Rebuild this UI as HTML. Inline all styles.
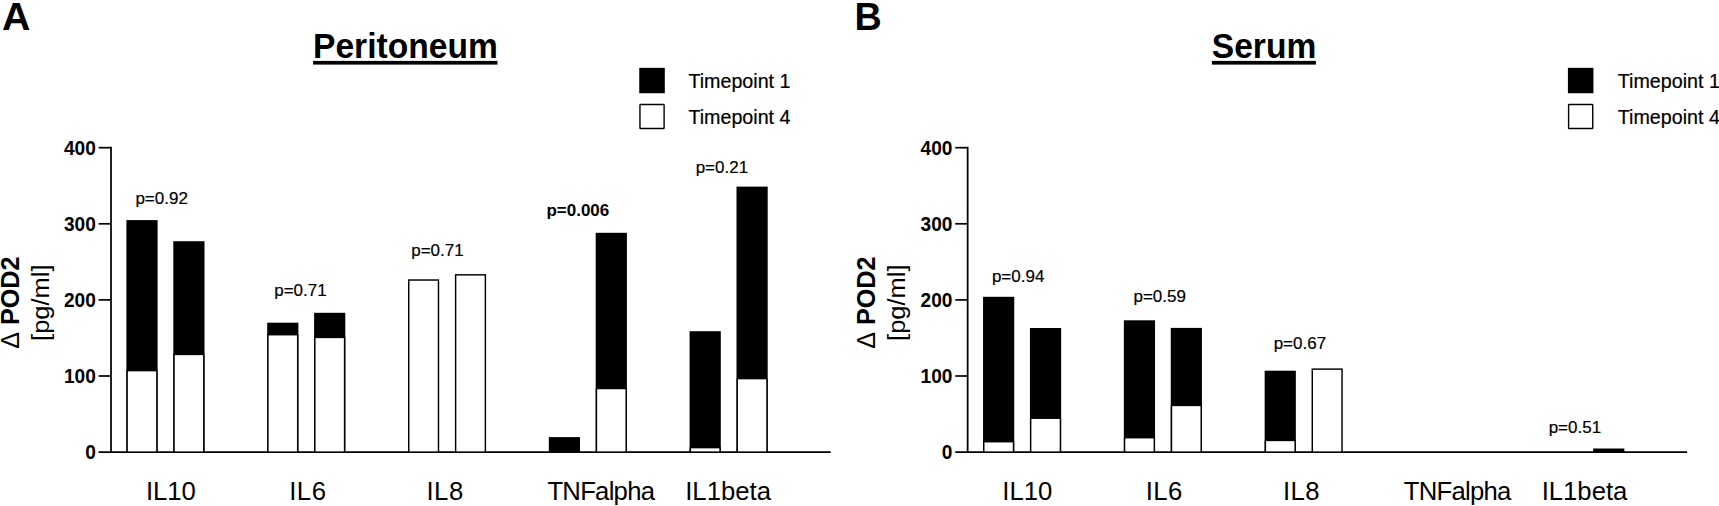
<!DOCTYPE html>
<html lang="en"><head><meta charset="utf-8"><title>Peritoneum / Serum</title>
<style>
html,body{margin:0;padding:0;background:#fff;}
body{width:1719px;height:506px;overflow:hidden;}
svg{display:block;}
text{font-family:"Liberation Sans",Arial,sans-serif;fill:#000;}
.pl{font-weight:bold;}
.tt{font-size:33.6px;font-weight:bold;}
.lg{font-size:19.7px;stroke:#000;stroke-width:0.2px;}
.tk{font-size:19.1px;font-weight:bold;}
.pv{font-size:17px;stroke:#000;stroke-width:0.2px;}
.pb{font-weight:bold;stroke:none;}
.xl{font-size:25.7px;}
.yl1{font-size:25.2px;font-weight:bold;}
.yl1 .dl{font-weight:normal;}
.yl2{font-size:25.5px;}
</style></head><body>
<svg width="1719" height="506" viewBox="0 0 1719 506">
<rect width="1719" height="506" fill="#fff"/>
<!-- Panel A -->
<text class="pl" transform="translate(2.00,30.00)" style="font-size:39.3px">A</text>
<text class="tt" transform="translate(405.40,57.50) scale(1,1.025)" text-anchor="middle">Peritoneum</text>
<rect x="313.1" y="60.9" width="184.4" height="3.7" fill="#000"/>
<rect x="639.26" y="67.84" width="25.55" height="25.4" fill="#000"/>
<rect x="639.96" y="104.55" width="24.15" height="24.0" rx="0.6" fill="#fff" stroke="#000" stroke-width="1.4"/>
<text class="lg" transform="translate(688.40,87.80) scale(1,1.035)">Timepoint 1</text>
<text class="lg" transform="translate(688.40,123.50) scale(1,1.035)">Timepoint 4</text>
<line x1="111.00" y1="146.85" x2="111.00" y2="452.98" stroke="#000" stroke-width="1.75"/>
<line x1="98.60" y1="452.1" x2="830.70" y2="452.1" stroke="#000" stroke-width="1.75"/>
<line x1="98.60" y1="147.70" x2="111.00" y2="147.70" stroke="#000" stroke-width="1.7"/>
<text class="tk" transform="translate(95.80,155.00) scale(1,1.03)" text-anchor="end">400</text>
<line x1="98.60" y1="223.80" x2="111.00" y2="223.80" stroke="#000" stroke-width="1.7"/>
<text class="tk" transform="translate(95.80,231.10) scale(1,1.03)" text-anchor="end">300</text>
<line x1="98.60" y1="299.90" x2="111.00" y2="299.90" stroke="#000" stroke-width="1.7"/>
<text class="tk" transform="translate(95.80,307.20) scale(1,1.03)" text-anchor="end">200</text>
<line x1="98.60" y1="376.00" x2="111.00" y2="376.00" stroke="#000" stroke-width="1.7"/>
<text class="tk" transform="translate(95.80,383.30) scale(1,1.03)" text-anchor="end">100</text>
<text class="tk" transform="translate(95.80,459.40) scale(1,1.03)" text-anchor="end">0</text>
<text class="yl1" transform="translate(18.80,302.65) rotate(-90) scale(1,1.02)" text-anchor="middle"><tspan class="dl">Δ</tspan> POD2</text>
<text class="yl2" transform="translate(48.70,302.65) rotate(-90) scale(1,0.955)" text-anchor="middle">[pg/ml]</text>
<rect x="126.40" y="220.10" width="31.2" height="232.00" fill="#000"/>
<rect x="127.12" y="370.62" width="29.75" height="81.48" fill="#fff" stroke="#000" stroke-width="1.45"/>
<rect x="173.30" y="241.20" width="31.2" height="210.90" fill="#000"/>
<rect x="174.03" y="354.42" width="29.75" height="97.68" fill="#fff" stroke="#000" stroke-width="1.45"/>
<rect x="267.20" y="322.70" width="31.2" height="129.40" fill="#000"/>
<rect x="267.93" y="334.72" width="29.75" height="117.38" fill="#fff" stroke="#000" stroke-width="1.45"/>
<rect x="314.10" y="312.80" width="31.2" height="139.30" fill="#000"/>
<rect x="314.83" y="337.42" width="29.75" height="114.68" fill="#fff" stroke="#000" stroke-width="1.45"/>
<rect x="408.73" y="280.03" width="29.75" height="172.07" fill="#fff" stroke="#000" stroke-width="1.45"/>
<rect x="455.62" y="274.83" width="29.75" height="177.27" fill="#fff" stroke="#000" stroke-width="1.45"/>
<rect x="548.80" y="437.10" width="31.2" height="15.00" fill="#000"/>
<rect x="595.70" y="232.80" width="31.2" height="219.30" fill="#000"/>
<rect x="596.43" y="388.52" width="29.75" height="63.58" fill="#fff" stroke="#000" stroke-width="1.45"/>
<rect x="689.60" y="331.20" width="31.2" height="120.90" fill="#000"/>
<rect x="690.33" y="447.62" width="29.75" height="4.48" fill="#fff" stroke="#000" stroke-width="1.45"/>
<rect x="736.50" y="186.60" width="31.2" height="265.50" fill="#000"/>
<rect x="737.23" y="378.62" width="29.75" height="73.48" fill="#fff" stroke="#000" stroke-width="1.45"/>
<text class="pv" transform="translate(135.40,203.70) scale(1,1.01)">p=0.92</text>
<text class="pv" transform="translate(274.20,295.50) scale(1,1.01)">p=0.71</text>
<text class="pv" transform="translate(411.20,255.75) scale(1,1.01)">p=0.71</text>
<text class="pv pb" transform="translate(546.40,215.90) scale(1,1.01)">p=0.006</text>
<text class="pv" transform="translate(695.65,172.60) scale(1,1.01)">p=0.21</text>
<text class="xl" transform="translate(145.90,499.80) scale(1,1.025)">IL10</text>
<text class="xl" transform="translate(289.20,499.80) scale(1,1.025)" style="letter-spacing:0.5px">IL6</text>
<text class="xl" transform="translate(426.45,499.80) scale(1,1.025)" style="letter-spacing:0.5px">IL8</text>
<text class="xl" transform="translate(547.40,499.80) scale(1,1.025)" style="letter-spacing:-0.75px">TNFalpha</text>
<text class="xl" transform="translate(685.20,499.80) scale(1,1.025)">IL1beta</text>
<!-- Panel B -->
<text class="pl" transform="translate(854.50,30.00) scale(1,1.045)" style="font-size:37.7px">B</text>
<text class="tt" transform="translate(1264.00,57.50) scale(1,1.025)" text-anchor="middle">Serum</text>
<rect x="1211.9" y="60.9" width="104" height="3.7" fill="#000"/>
<rect x="1567.90" y="67.84" width="25.55" height="25.4" fill="#000"/>
<rect x="1568.60" y="104.55" width="24.15" height="24.0" rx="0.6" fill="#fff" stroke="#000" stroke-width="1.4"/>
<text class="lg" transform="translate(1617.80,87.80) scale(1,1.035)">Timepoint 1</text>
<text class="lg" transform="translate(1617.80,123.50) scale(1,1.035)">Timepoint 4</text>
<line x1="967.65" y1="146.85" x2="967.65" y2="452.98" stroke="#000" stroke-width="1.75"/>
<line x1="955.25" y1="452.1" x2="1687.15" y2="452.1" stroke="#000" stroke-width="1.75"/>
<line x1="955.25" y1="147.70" x2="967.65" y2="147.70" stroke="#000" stroke-width="1.7"/>
<text class="tk" transform="translate(952.45,155.00) scale(1,1.03)" text-anchor="end">400</text>
<line x1="955.25" y1="223.80" x2="967.65" y2="223.80" stroke="#000" stroke-width="1.7"/>
<text class="tk" transform="translate(952.45,231.10) scale(1,1.03)" text-anchor="end">300</text>
<line x1="955.25" y1="299.90" x2="967.65" y2="299.90" stroke="#000" stroke-width="1.7"/>
<text class="tk" transform="translate(952.45,307.20) scale(1,1.03)" text-anchor="end">200</text>
<line x1="955.25" y1="376.00" x2="967.65" y2="376.00" stroke="#000" stroke-width="1.7"/>
<text class="tk" transform="translate(952.45,383.30) scale(1,1.03)" text-anchor="end">100</text>
<text class="tk" transform="translate(952.45,459.40) scale(1,1.03)" text-anchor="end">0</text>
<text class="yl1" transform="translate(875.30,302.65) rotate(-90) scale(1,1.02)" text-anchor="middle"><tspan class="dl">Δ</tspan> POD2</text>
<text class="yl2" transform="translate(905.20,302.65) rotate(-90) scale(1,0.955)" text-anchor="middle">[pg/ml]</text>
<rect x="983.05" y="296.80" width="31.2" height="155.30" fill="#000"/>
<rect x="983.77" y="441.72" width="29.75" height="10.38" fill="#fff" stroke="#000" stroke-width="1.45"/>
<rect x="1029.95" y="328.00" width="31.2" height="124.10" fill="#000"/>
<rect x="1030.67" y="418.22" width="29.75" height="33.88" fill="#fff" stroke="#000" stroke-width="1.45"/>
<rect x="1123.85" y="320.30" width="31.2" height="131.80" fill="#000"/>
<rect x="1124.57" y="437.72" width="29.75" height="14.38" fill="#fff" stroke="#000" stroke-width="1.45"/>
<rect x="1170.75" y="327.90" width="31.2" height="124.20" fill="#000"/>
<rect x="1171.47" y="405.42" width="29.75" height="46.68" fill="#fff" stroke="#000" stroke-width="1.45"/>
<rect x="1264.65" y="370.70" width="31.2" height="81.40" fill="#000"/>
<rect x="1265.38" y="440.42" width="29.75" height="11.68" fill="#fff" stroke="#000" stroke-width="1.45"/>
<rect x="1312.28" y="369.12" width="29.75" height="82.98" fill="#fff" stroke="#000" stroke-width="1.45"/>
<rect x="1593.15" y="448.50" width="31.2" height="3.60" fill="#000"/>
<text class="pv" transform="translate(991.90,281.70) scale(1,1.01)">p=0.94</text>
<text class="pv" transform="translate(1133.50,301.70) scale(1,1.01)">p=0.59</text>
<text class="pv" transform="translate(1273.65,349.10) scale(1,1.01)">p=0.67</text>
<text class="pv" transform="translate(1548.65,432.60) scale(1,1.01)">p=0.51</text>
<text class="xl" transform="translate(1002.35,499.80) scale(1,1.025)">IL10</text>
<text class="xl" transform="translate(1145.65,499.80) scale(1,1.025)" style="letter-spacing:0.5px">IL6</text>
<text class="xl" transform="translate(1282.90,499.80) scale(1,1.025)" style="letter-spacing:0.5px">IL8</text>
<text class="xl" transform="translate(1403.85,499.80) scale(1,1.025)" style="letter-spacing:-0.75px">TNFalpha</text>
<text class="xl" transform="translate(1541.65,499.80) scale(1,1.025)">IL1beta</text>
</svg>
</body></html>
